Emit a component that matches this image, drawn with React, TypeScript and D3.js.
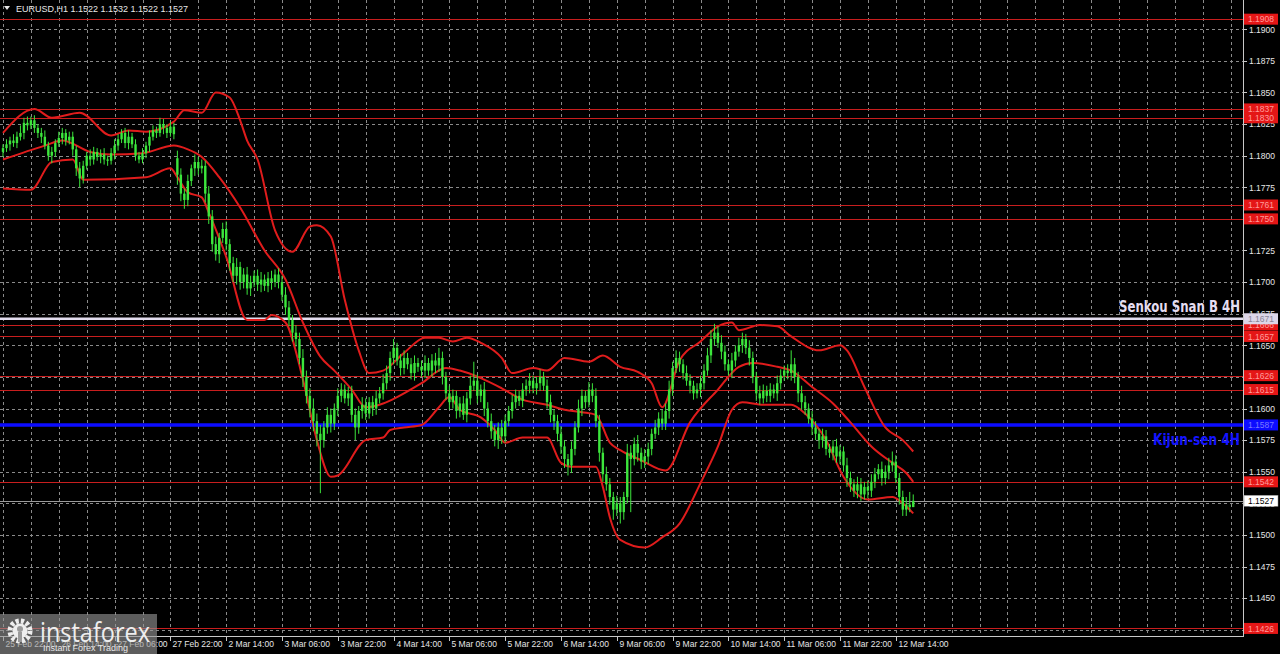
import React from "react";
import * as d3 from "d3";

const W = 1280;
const H = 654;
const PLOT_RIGHT = 1243;
const PLOT_BOTTOM = 636;
const BAR_STEP = 3.4875;

// Hourly closes, EURUSD H1, bar 0 = 25 Feb 22:00
const closes = [
  1.1806, 1.1809, 1.1812, 1.181, 1.1815, 1.1818, 1.1826, 1.1824, 1.1828, 1.1822,
  1.1818, 1.1815, 1.1808, 1.18, 1.1803, 1.181, 1.1814, 1.1818, 1.1812, 1.1815,
  1.1805, 1.179, 1.1782, 1.1792, 1.18, 1.1797, 1.1803, 1.1799, 1.1801, 1.1797,
  1.1796, 1.1802, 1.1808, 1.1813, 1.1818, 1.181, 1.1815, 1.1809, 1.18, 1.1797,
  1.1802, 1.1808, 1.1815, 1.182, 1.1818, 1.1825, 1.1822, 1.1818, 1.1823, 1.1817,
  1.1785, 1.177, 1.1765, 1.178, 1.179, 1.1795, 1.179, 1.1792, 1.177, 1.1752,
  1.173, 1.1722, 1.1735, 1.1742, 1.173, 1.1715, 1.1705, 1.1712, 1.17, 1.1706,
  1.1695, 1.17, 1.1705, 1.1698, 1.1702, 1.1697, 1.1703, 1.17, 1.1706, 1.17,
  1.169, 1.168, 1.167, 1.166, 1.1655, 1.164, 1.1625, 1.161, 1.16, 1.159,
  1.158, 1.1575, 1.1585, 1.1595, 1.1588, 1.16, 1.161, 1.1615, 1.1608, 1.1612,
  1.1595, 1.1585, 1.1598, 1.1603, 1.1596, 1.1605, 1.16, 1.1608, 1.1612, 1.162,
  1.1628, 1.164, 1.1648, 1.1638, 1.1632, 1.164, 1.1635, 1.1628, 1.1636, 1.1633,
  1.163, 1.1636, 1.163, 1.1638, 1.1634, 1.164, 1.1625, 1.1612, 1.1605, 1.161,
  1.1598, 1.1604, 1.1595, 1.1608, 1.1618, 1.1622, 1.161, 1.1615, 1.16, 1.159,
  1.1582, 1.1575, 1.1585, 1.1578, 1.159, 1.1598, 1.1605, 1.161, 1.1606, 1.1615,
  1.1618, 1.1622, 1.1616, 1.162, 1.1625, 1.1618, 1.1605, 1.1595, 1.159, 1.158,
  1.157, 1.156, 1.1555, 1.1568, 1.1585, 1.16, 1.161, 1.1605, 1.1615, 1.161,
  1.159, 1.1565, 1.1548, 1.154, 1.153, 1.152, 1.1525, 1.1518, 1.153, 1.1565,
  1.156, 1.1572, 1.1565, 1.1558, 1.1562, 1.1568, 1.158, 1.1585, 1.1592, 1.1588,
  1.1598, 1.1615, 1.1632, 1.164, 1.1635, 1.1628, 1.1622, 1.1618, 1.1612, 1.1615,
  1.162, 1.163, 1.1642, 1.1655, 1.166, 1.1652, 1.1645, 1.1635, 1.163, 1.1638,
  1.1645, 1.165, 1.1655, 1.1648, 1.164, 1.1625, 1.1612, 1.1608, 1.1614, 1.161,
  1.1615, 1.1612, 1.162, 1.1626, 1.163, 1.1628, 1.1635, 1.1625, 1.1612, 1.1605,
  1.16, 1.1592, 1.1585, 1.158, 1.1575, 1.1578, 1.1568, 1.1565, 1.157, 1.1562,
  1.1566, 1.1555, 1.1545, 1.154, 1.1535, 1.154, 1.1532, 1.1538, 1.1535, 1.1542,
  1.1548, 1.1552, 1.1545, 1.155, 1.1555, 1.1558, 1.1545, 1.153, 1.152, 1.1524,
  1.1522, 1.1527,
];

// upper wick above the body, in pips
const hiPips = [
  3, 4, 3, 5, 4, 6, 4, 5, 3, 4,
  3, 4, 5, 3, 4, 3, 5, 4, 3, 4,
  4, 3, 5, 4, 3, 5, 4, 3, 4, 5,
  3, 4, 5, 4, 3, 4, 5, 3, 4, 3,
  4, 3, 5, 4, 3, 5, 4, 3, 4, 3,
  6, 5, 4, 5, 3, 6, 4, 5, 4, 6,
  5, 6, 4, 5, 6, 4, 5, 7, 4, 5,
  6, 5, 4, 5, 6, 4, 5, 6, 4, 5,
  5, 6, 5, 4, 6, 5, 7, 5, 6, 8,
  6, 7, 5, 6, 5, 4, 6, 5, 4, 5,
  6, 5, 4, 6, 5, 4, 5, 6, 5, 7,
  6, 5, 7, 4, 5, 6, 4, 5, 6, 4,
  5, 6, 4, 5, 6, 8, 5, 4, 6, 5,
  4, 5, 6, 5, 8, 15, 5, 4, 6, 5,
  6, 5, 4, 6, 5, 4, 6, 5, 4, 5,
  5, 6, 4, 5, 6, 4, 5, 6, 4, 5,
  6, 5, 4, 6, 5, 7, 5, 4, 6, 5,
  6, 5, 4, 6, 5, 4, 6, 5, 4, 7,
  6, 5, 7, 4, 6, 5, 4, 6, 5, 7,
  6, 7, 5, 6, 5, 4, 6, 5, 4, 5,
  6, 5, 6, 7, 7, 5, 6, 5, 4, 6,
  5, 6, 5, 4, 6, 5, 4, 6, 5, 4,
  5, 4, 6, 5, 4, 5, 11, 5, 4, 6,
  5, 4, 6, 5, 4, 6, 5, 4, 5, 6,
  5, 4, 6, 5, 4, 6, 5, 4, 5, 6,
  5, 4, 6, 5, 6, 8, 5, 4, 5, 6,
  10, 5,
];

// lower wick below the body, in pips
const loPips = [
  4, 3, 5, 3, 4, 3, 5, 4, 3, 4,
  4, 5, 3, 4, 6, 4, 3, 5, 4, 3,
  5, 6, 7, 4, 3, 5, 4, 3, 5, 4,
  4, 3, 5, 4, 3, 4, 5, 3, 4, 3,
  3, 4, 5, 3, 4, 3, 5, 4, 3, 4,
  8, 6, 7, 5, 4, 6, 5, 4, 7, 6,
  6, 5, 7, 4, 5, 6, 5, 7, 6, 5,
  5, 6, 4, 5, 6, 4, 5, 6, 4, 5,
  5, 6, 5, 7, 6, 5, 8, 6, 7, 8,
  10, 42, 6, 5, 7, 5, 6, 5, 4, 6,
  6, 10, 5, 6, 5, 4, 6, 5, 4, 5,
  5, 6, 5, 4, 6, 5, 4, 5, 6, 4,
  5, 6, 4, 5, 6, 5, 6, 5, 6, 5,
  6, 5, 4, 6, 5, 4, 6, 5, 6, 5,
  6, 5, 7, 6, 5, 4, 6, 5, 4, 5,
  5, 6, 4, 5, 6, 4, 5, 6, 7, 6,
  6, 7, 8, 6, 5, 4, 6, 5, 4, 5,
  5, 7, 6, 5, 6, 8, 5, 9, 6, 5,
  42, 5, 7, 6, 5, 6, 5, 4, 6, 5,
  5, 6, 5, 4, 6, 5, 4, 6, 5, 4,
  6, 5, 4, 6, 5, 4, 6, 5, 4, 6,
  5, 4, 6, 5, 6, 5, 6, 5, 4, 5,
  5, 4, 6, 5, 4, 5, 6, 5, 7, 6,
  5, 4, 6, 5, 7, 6, 5, 4, 6, 5,
  6, 5, 7, 6, 5, 6, 5, 4, 6, 5,
  5, 4, 6, 5, 6, 5, 4, 6, 5, 5,
  4, 0,
];

const FIRST_OPEN = 1.1803;
const GAP_INDEX = 50; // Monday open after the weekend
const GAP_OPEN = 1.1798;

// red indicator lines (bar index, price)
const upperBars = [0, 9, 14, 22, 31, 36, 41, 49, 52, 57, 61, 65, 68, 70, 73, 78, 83, 88, 90, 94, 98, 102, 105, 109, 115, 121, 125, 129, 133, 137, 143, 146, 152, 156, 161, 168, 172, 177, 182, 186, 189, 194, 200, 205, 209, 211, 217, 222, 226, 234, 240, 242, 247, 253, 258, 261];
const upperPrices = [1.1818, 1.1837, 1.183, 1.1834, 1.1816, 1.182, 1.1819, 1.1827, 1.1836, 1.1834, 1.185, 1.1846, 1.1828, 1.1812, 1.1797, 1.1741, 1.1724, 1.1744, 1.1745, 1.1736, 1.1686, 1.1646, 1.1628, 1.163, 1.1644, 1.1656, 1.1656, 1.1653, 1.1656, 1.1652, 1.164, 1.1628, 1.1632, 1.163, 1.164, 1.1637, 1.1642, 1.1633, 1.1629, 1.162, 1.1601, 1.1638, 1.1653, 1.1665, 1.1668, 1.1662, 1.1666, 1.1665, 1.1657, 1.1646, 1.165, 1.1646, 1.1617, 1.1585, 1.1575, 1.1566];
const middleBars = [0, 12, 17, 25, 31, 40, 49, 53, 57, 62, 68, 75, 81, 86, 91, 95, 100, 104, 109, 113, 120, 127, 131, 137, 143, 149, 156, 161, 166, 170, 174, 177, 183, 190, 197, 205, 211, 215, 222, 226, 232, 238, 243, 249, 255, 259, 261];
const middlePrices = [1.1797, 1.1808, 1.1812, 1.1803, 1.1801, 1.1802, 1.1808, 1.1805, 1.1799, 1.1783, 1.1759, 1.1725, 1.1702, 1.1668, 1.1641, 1.163, 1.1615, 1.1601, 1.1604, 1.1609, 1.162, 1.1632, 1.163, 1.1624, 1.1616, 1.1607, 1.1603, 1.1599, 1.1597, 1.1595, 1.1573, 1.1567, 1.1559, 1.1551, 1.1589, 1.1615, 1.1633, 1.1636, 1.1633, 1.163, 1.1617, 1.1604, 1.1589, 1.157, 1.1557, 1.1549, 1.1542];
const lowerBars = [0, 8, 14, 20, 23, 41, 48, 50, 53, 57, 59, 64, 70, 75, 77, 81, 86, 90, 94, 96, 104, 109, 111, 115, 120, 125, 128, 131, 137, 141, 144, 149, 156, 160, 163, 170, 172, 174, 177, 184, 189, 194, 200, 205, 209, 212, 218, 226, 230, 236, 241, 248, 255, 258, 261];
const lowerPrices = [1.1774, 1.1773, 1.1795, 1.1797, 1.1781, 1.1783, 1.179, 1.1783, 1.1771, 1.1767, 1.1755, 1.172, 1.167, 1.167, 1.1674, 1.1668, 1.1623, 1.1575, 1.1546, 1.1547, 1.1575, 1.1577, 1.1583, 1.1585, 1.1587, 1.1601, 1.1609, 1.1599, 1.1593, 1.1583, 1.1573, 1.1577, 1.1577, 1.1557, 1.1554, 1.1554, 1.1538, 1.1514, 1.1496, 1.149, 1.1498, 1.1509, 1.1541, 1.157, 1.1599, 1.1605, 1.1603, 1.1603, 1.1596, 1.1575, 1.1546, 1.1528, 1.153, 1.1525, 1.1517];

// axes
const timeLabels = ["25 Feb 22:00", "26 Feb 14:00", "27 Feb 06:00", "27 Feb 22:00", "2 Mar 14:00", "3 Mar 06:00", "3 Mar 22:00", "4 Mar 14:00", "5 Mar 06:00", "5 Mar 22:00", "6 Mar 14:00", "9 Mar 06:00", "9 Mar 22:00", "10 Mar 14:00", "11 Mar 06:00", "11 Mar 22:00", "12 Mar 14:00"];
const LABEL_EVERY = 16;
const GRID_EVERY = 8;
const priceTicks = [1.19, 1.1875, 1.185, 1.1825, 1.18, 1.1775, 1.175, 1.1725, 1.17, 1.1675, 1.165, 1.1625, 1.16, 1.1575, 1.155, 1.1525, 1.15, 1.1475, 1.145, 1.1425];

// horizontal levels
const redLevels = [1.1908, 1.1837, 1.183, 1.1761, 1.175, 1.1666, 1.1657, 1.1626, 1.1615, 1.1542, 1.1426];
const SENKOU_B = 1.1671;
const KIJUN = 1.1587;
const LAST = 1.1527;
const TITLE = "EURUSD,H1  1.1522 1.1532 1.1522 1.1527";

const FONT = "Liberation Sans, Arial, sans-serif";

export default function App() {
  const x = d3.scaleLinear().domain([0, 1]).range([3, 3 + BAR_STEP]);
  const y = d3.scaleLinear().domain([1.19, 1.145]).range([29.3, 598.1]);

  const candles = closes.map((c, i) => {
    const o = i === 0 ? FIRST_OPEN : i === GAP_INDEX ? GAP_OPEN : closes[i - 1];
    const hi = Math.max(o, c) + hiPips[i] * 0.0001;
    const lo = Math.min(o, c) - loPips[i] * 0.0001;
    return { i, o, c, hi, lo };
  });

  const line = d3
    .line<[number, number]>()
    .x((d) => x(d[0]))
    .y((d) => y(d[1]))
    .curve(d3.curveMonotoneX);

  const bands = [
    upperBars.map((b, k) => [b, upperPrices[k]] as [number, number]),
    middleBars.map((b, k) => [b, middlePrices[k]] as [number, number]),
    lowerBars.map((b, k) => [b, lowerPrices[k]] as [number, number]),
  ];

  const gridBars = d3.range(0, 360, GRID_EVERY).filter((b) => x(b) < PLOT_RIGHT);
  const px = (v: number) => Math.round(v) + 0.5;

  const box = (p: number, fill: string, text: string, key: string) => (
    <g key={key}>
      <rect x={1244} y={y(p) - 5.5} width={34} height={11} fill={fill} />
      <text x={1248} y={y(p) + 3.3} fontSize={8.5} fill={text} fontFamily={FONT}>
        {p.toFixed(4)}
      </text>
    </g>
  );

  return (
    <svg
      width={W}
      height={H}
      style={{ position: "absolute", left: 0, top: 0, display: "block" }}
    >
      <rect x={0} y={0} width={W} height={H} fill="#000" />

      {/* grid */}
      <g stroke="#8a8a8a" strokeDasharray="3,3" strokeWidth={1} shapeRendering="crispEdges">
        {priceTicks.map((p) => (
          <line key={"h" + p} x1={0} x2={PLOT_RIGHT} y1={px(y(p))} y2={px(y(p))} />
        ))}
        {gridBars.map((b) => (
          <line key={"v" + b} x1={px(x(b))} x2={px(x(b))} y1={0} y2={PLOT_BOTTOM} />
        ))}
      </g>

      {/* horizontal levels */}
      <g shapeRendering="crispEdges">
        {redLevels.map((p) => (
          <line key={"r" + p} x1={0} x2={PLOT_RIGHT} y1={px(y(p))} y2={px(y(p))} stroke="#c81e1e" strokeWidth={1} />
        ))}
        <line x1={0} x2={PLOT_RIGHT} y1={px(y(LAST))} y2={px(y(LAST))} stroke="#9a9a9a" strokeWidth={1} />
      </g>
      <line x1={0} x2={PLOT_RIGHT} y1={y(SENKOU_B)} y2={y(SENKOU_B)} stroke="#e2dcee" strokeWidth={2.5} />
      <line x1={0} x2={PLOT_RIGHT} y1={y(KIJUN)} y2={y(KIJUN)} stroke="#0c0cff" strokeWidth={3.5} />

      {/* indicator lines */}
      {bands.map((pts, k) => (
        <path key={"b" + k} d={line(pts) || ""} fill="none" stroke="#e01c1c" strokeWidth={2} />
      ))}

      {/* candles */}
      <g>
        {candles.map((d) => {
          const cx = x(d.i);
          const top = y(Math.max(d.o, d.c));
          const bot = y(Math.min(d.o, d.c));
          return (
            <g key={"c" + d.i}>
              <line x1={cx} x2={cx} y1={y(d.hi)} y2={y(d.lo)} stroke="#3ce63c" strokeWidth={1} />
              <rect x={cx - 1.2} y={top} width={2.4} height={Math.max(1, bot - top)} fill="#3ce63c" />
            </g>
          );
        })}
      </g>

      {/* frame */}
      <g stroke="#c8c8c8" strokeWidth={1} shapeRendering="crispEdges">
        <line x1={PLOT_RIGHT + 0.5} x2={PLOT_RIGHT + 0.5} y1={0} y2={PLOT_BOTTOM + 0.5} />
        <line x1={0} x2={PLOT_RIGHT + 0.5} y1={PLOT_BOTTOM + 0.5} y2={PLOT_BOTTOM + 0.5} />
      </g>

      {/* price axis */}
      <g fontFamily={FONT} fontSize={8.5} fill="#e6e6e6">
        {priceTicks.map((p) => (
          <g key={"pt" + p}>
            <line x1={PLOT_RIGHT} x2={PLOT_RIGHT + 4} y1={px(y(p))} y2={px(y(p))} stroke="#c8c8c8" shapeRendering="crispEdges" />
            <text x={1249} y={y(p) + 3.2}>{p.toFixed(4)}</text>
          </g>
        ))}
      </g>

      {/* time axis */}
      <g fontFamily={FONT} fontSize={8.5} fill="#e6e6e6">
        {timeLabels.map((t, k) => {
          const xx = px(x(k * LABEL_EVERY));
          return (
            <g key={"t" + k}>
              <line x1={xx} x2={xx} y1={PLOT_BOTTOM} y2={PLOT_BOTTOM + 5} stroke="#c8c8c8" shapeRendering="crispEdges" />
              <text x={xx + 2} y={647}>{t}</text>
            </g>
          );
        })}
      </g>

      {/* level boxes */}
      {redLevels.map((p) => box(p, "#e41616", "#ff9c9c", "rb" + p))}
      {box(SENKOU_B, "#dcd6e8", "#8a8496", "sb")}
      {box(KIJUN, "#0c0cff", "#7a7aff", "kb")}
      <g>
        <rect x={1244} y={y(LAST) - 5.5} width={34} height={11} fill="#fff" stroke="#888" strokeWidth={0.5} />
        <text x={1248} y={y(LAST) + 3.3} fontSize={8.5} fill="#000" fontFamily={FONT}>
          {LAST.toFixed(4)}
        </text>
      </g>

      {/* level captions */}
      <text x={1240} y={312} textAnchor="end" fontFamily="Liberation Sans Narrow, DejaVu Sans Condensed, sans-serif" fontWeight="bold" fontSize={15} fill="#e4ddf0" textLength={121} lengthAdjust="spacingAndGlyphs">
        Senkou Snan B 4H
      </text>
      <text x={1240} y={445} textAnchor="end" fontFamily="Liberation Sans Narrow, DejaVu Sans Condensed, sans-serif" fontWeight="bold" fontSize={15} fill="#1414ff" textLength={87} lengthAdjust="spacingAndGlyphs">
        Kijun-sen 4H
      </text>

      {/* title */}
      <path d="M4,6 L10,6 L7,10 Z" fill="#e6e6e6" />
      <text x={16} y={12} fontFamily={FONT} fontSize={9} fill="#e6e6e6">
        {TITLE}
      </text>

      {/* watermark */}
      <g>
        <rect x={0} y={614} width={157} height={40} fill="rgba(150,150,150,0.62)" />
        <circle cx={20} cy={631} r={10} fill="none" stroke="#eeeeee" strokeWidth={5} strokeDasharray="3.2,2.1" />
        <circle cx={20} cy={631} r={7.5} fill="#eeeeee" />
        <circle cx={20} cy={629} r={3} fill="#9a9a9a" />
        <rect x={18} y={632} width={4} height={10} fill="#9a9a9a" />
        <text x={40} y={642} fontFamily="Open Sans, Liberation Sans, sans-serif" fontSize={27} fill="#eeeeee" textLength={110} lengthAdjust="spacingAndGlyphs">
          instaforex
        </text>
        <text x={43} y={651} fontFamily={FONT} fontSize={8.5} fill="#e8e8e8" textLength={85} lengthAdjust="spacingAndGlyphs">
          Instant Forex Trading
        </text>
      </g>
    </svg>
  );
}
